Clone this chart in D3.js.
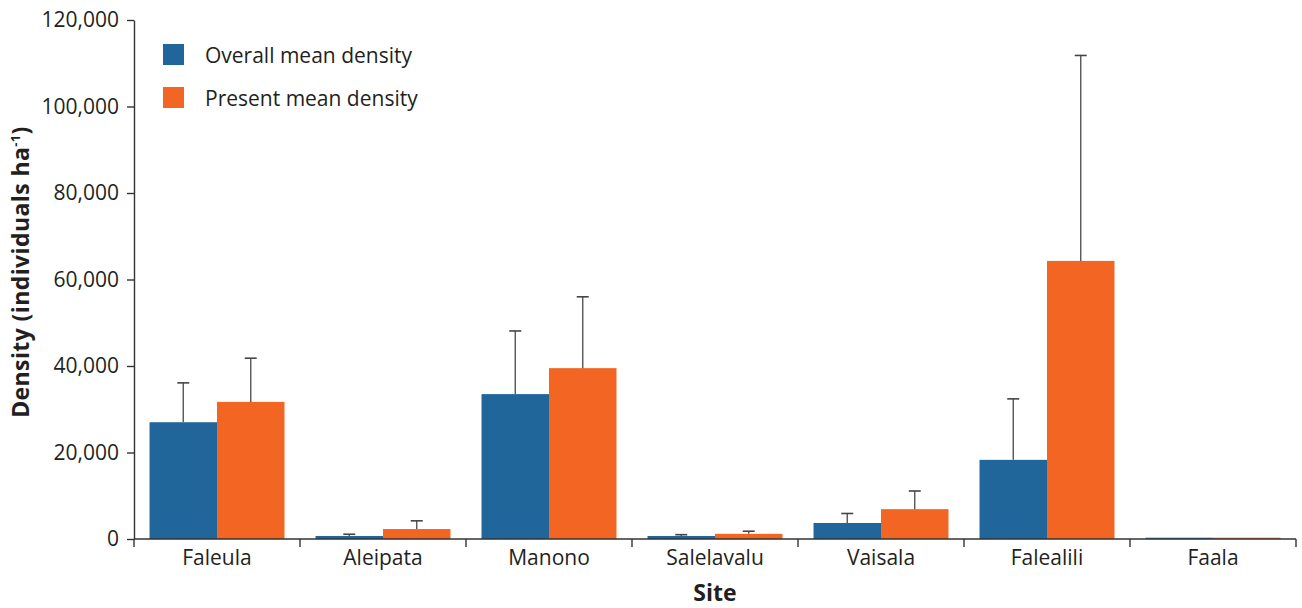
<!DOCTYPE html>
<html>
<head>
<meta charset="utf-8">
<script src="https://cdn.jsdelivr.net/npm/d3@7"></script>
<style>
  html, body { margin: 0; padding: 0; background: #fff; }
  svg { display: block; }
  text { font-family: "Open Sans", "Noto Sans", sans-serif; fill: #231f20; }
</style>
</head>
<body>
<svg id="chart" width="1302" height="608"></svg>
<script>
// Sites sampled
const sites = ["Faleula", "Aleipata", "Manono", "Salelavalu", "Vaisala", "Falealili", "Faala"];
// Series names
const seriesNames = ["Overall mean density", "Present mean density"];
// Mean densities (individuals per ha)
const overallMean = [27000, 700, 33500, 700, 3700, 18300, 300];
const presentMean = [31700, 2300, 39500, 1200, 6900, 64300, 300];
// Upper ends of error bars (mean + SE)
const overallUpper = [36100, 1100, 48100, 1000, 5900, 32400, 300];
const presentUpper = [41800, 4200, 56000, 1800, 11100, 111800, 300];
// Y tick values
const yTicks = [0, 20000, 40000, 60000, 80000, 100000, 120000];

const colors = ["#21669a", "#f26522"];

const svg = d3.select("#chart");
const margin = { left: 134, right: 6, top: 20, bottom: 69 };
const W = 1302, H = 608;
const x0 = margin.left, x1 = W - margin.right;
const yTop = margin.top, yBot = H - margin.bottom;

const x = d3.scaleBand().domain(sites).range([x0, x1]).paddingInner(0).paddingOuter(0);
const xs = d3.scaleBand().domain(seriesNames).range([0, x.bandwidth()]).paddingInner(0).paddingOuter(0.23);
const y = d3.scaleLinear().domain([0, 120000]).range([yBot, yTop]);

const rows = sites.map((s, i) => ({
  site: s,
  vals: [
    { key: seriesNames[0], v: overallMean[i], up: overallUpper[i], c: colors[0] },
    { key: seriesNames[1], v: presentMean[i], up: presentUpper[i], c: colors[1] }
  ]
}));

// Bars
const g = svg.append("g");
const groups = g.selectAll("g.site").data(rows).join("g")
  .attr("class", "site")
  .attr("transform", d => `translate(${x(d.site)},0)`);

groups.selectAll("rect").data(d => d.vals).join("rect")
  .attr("x", d => xs(d.key))
  .attr("width", xs.bandwidth())
  .attr("y", d => y(d.v))
  .attr("height", d => y(0) - y(d.v))
  .attr("fill", d => d.c);

// Error bars (upper only)
const eb = groups.selectAll("g.err").data(d => d.vals.filter(v => v.up > v.v)).join("g").attr("class", "err");
eb.append("line")
  .attr("x1", d => xs(d.key) + xs.bandwidth() / 2)
  .attr("x2", d => xs(d.key) + xs.bandwidth() / 2)
  .attr("y1", d => y(d.v))
  .attr("y2", d => y(d.up))
  .attr("stroke", "#555")
  .attr("stroke-width", 1.4);
eb.append("line")
  .attr("x1", d => xs(d.key) + xs.bandwidth() / 2 - 6)
  .attr("x2", d => xs(d.key) + xs.bandwidth() / 2 + 6)
  .attr("y1", d => y(d.up))
  .attr("y2", d => y(d.up))
  .attr("stroke", "#444")
  .attr("stroke-width", 1.6);

// Y axis
const yAxis = svg.append("g")
  .attr("transform", `translate(${x0},0)`)
  .call(d3.axisLeft(y).tickValues(yTicks).tickFormat(d3.format(",")).tickSize(7).tickSizeOuter(0).tickPadding(8));
yAxis.select(".domain").attr("stroke", "#333").attr("stroke-width", 1.4);
yAxis.selectAll(".tick line").attr("stroke", "#333").attr("stroke-width", 1.4);
yAxis.selectAll(".tick text").style("font-size", "21px").attr("fill", "#231f20");

// X axis
const xAxis = svg.append("g").attr("transform", `translate(0,${yBot})`);
xAxis.append("line").attr("x1", x0).attr("x2", x1).attr("stroke", "#333").attr("stroke-width", 1.4);
const bounds = sites.map(s => x(s)).concat([x1]);
xAxis.selectAll("line.tk").data(bounds).join("line")
  .attr("class", "tk")
  .attr("x1", d => d).attr("x2", d => d)
  .attr("y1", 0).attr("y2", 8)
  .attr("stroke", "#333").attr("stroke-width", 1.4);
xAxis.selectAll("text").data(sites).join("text")
  .attr("x", d => x(d) + x.bandwidth() / 2)
  .attr("y", 26)
  .attr("text-anchor", "middle")
  .style("font-size", "21px")
  .text(d => d);

// Axis titles
svg.append("text")
  .attr("x", (x0 + x1) / 2)
  .attr("y", 601)
  .attr("text-anchor", "middle")
  .style("font-size", "23px")
  .style("font-weight", "bold")
  .text("Site");

const yt = svg.append("text")
  .attr("transform", `translate(29,272) rotate(-90)`)
  .attr("text-anchor", "middle")
  .style("font-size", "23px")
  .style("font-weight", "bold")
  .style("letter-spacing", "0.4px");
yt.append("tspan").text("Density (individuals ha");
yt.append("tspan").attr("dy", -9).style("font-size", "13px").text("-1");
yt.append("tspan").attr("dy", 9).text(")");

// Legend
const lg = svg.append("g").attr("transform", "translate(163,44)");
const li = lg.selectAll("g").data(seriesNames).join("g")
  .attr("transform", (d, i) => `translate(0,${i * 43})`);
li.append("rect").attr("width", 21).attr("height", 21).attr("fill", (d, i) => colors[i]);
li.append("text").attr("x", 42).attr("y", 19).style("font-size", "21px").text(d => d);
</script>
</body>
</html>
